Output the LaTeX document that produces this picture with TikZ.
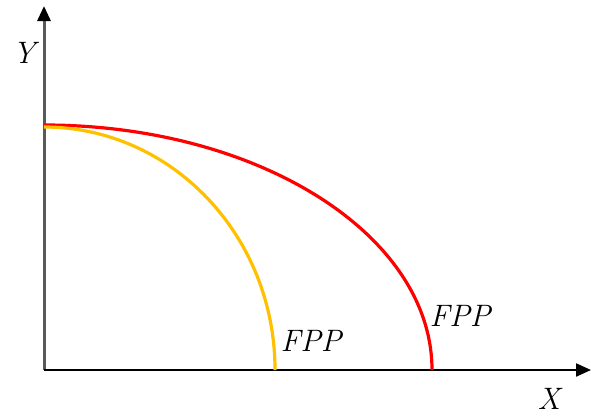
\documentclass[tikz,border=0pt]{standalone}
\usepackage{fontspec}
\usetikzlibrary{arrows.meta, positioning}

\definecolor{fppred}{RGB}{255,0,0}
\definecolor{fppgold}{RGB}{255,192,0}

\begin{document}
\begin{tikzpicture}[
    x=1pt, y=-1pt,
    axis/.style={line width=2.2pt, -{Triangle[length=15pt, width=13pt, fill=black, color=black]}},
    curve/.style={line width=3.2pt},
    lbl/.style={font=\fontsize{31}{34}\selectfont\itshape, inner sep=0pt}
]
\useasboundingbox (0,0) rectangle (591,415);
\coordinate (o)    at (44,370);
\coordinate (ytop) at (44,6);
\coordinate (xend) at (591,370);

\draw[axis, draw=black!65, line width=3pt] (o) -- (ytop);
\draw[axis] (o) -- (xend);

% frontier curves
\coordinate (rstart) at (44,125);
\coordinate (gstart) at (44,127);
\draw[curve, fppred]  (rstart) arc[start angle=90, end angle=0, x radius=388, y radius=-245];
\draw[curve, fppgold] (gstart) arc[start angle=90, end angle=0, x radius=231, y radius=-243];

\node[lbl] (ylab)  at (24,53)   {Y};
\node[lbl] (xlab)  at (549,399) {X};
\node[lbl] (fppg)  at (311,341) {FPP};
\node[lbl] (fppr)  at (460,316) {FPP};
\end{tikzpicture}
\end{document}
